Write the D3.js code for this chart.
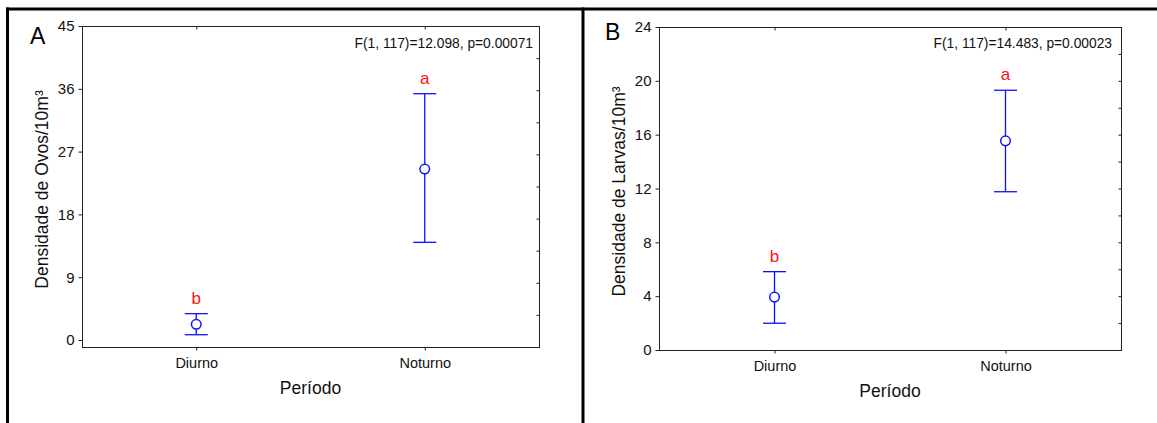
<!DOCTYPE html>
<html><head><meta charset="utf-8">
<script src="https://cdn.jsdelivr.net/npm/d3@7"></script>
<style>
html,body{margin:0;padding:0;background:#fff;}
svg text{font-family:"Liberation Sans",Arial,Helvetica,sans-serif;}
</style></head>
<body>
<svg id="chart" width="1157" height="423"></svg>
<script>
// ---- data ----
const categories = ["Diurno", "Noturno"];
const ovosMean = [2.25, 24.5];
const ovosLow = [0.76, 14.0];
const ovosHigh = [3.78, 35.3];
const ovosLetters = ["b", "a"];
const ovosTicks = [0, 9, 18, 27, 36, 45];
const ovosDomain = [-1, 45];
const ovosStat = "F(1, 117)=12.098, p=0.00071";

const larvasMean = [3.93, 15.54];
const larvasLow = [1.99, 11.76];
const larvasHigh = [5.82, 19.3];
const larvasLetters = ["b", "a"];
const larvasTicks = [0, 4, 8, 12, 16, 20, 24];
const larvasDomain = [0, 24];
const larvasStat = "F(1, 117)=14.483, p=0.00023";

const svg = d3.select("#chart");

// outer frame
svg.append("line").attr("x1", 6).attr("x2", 1157).attr("y1", 9).attr("y2", 9).attr("stroke", "#000").attr("stroke-width", 3);
svg.append("line").attr("x1", 7.5).attr("x2", 7.5).attr("y1", 7.5).attr("y2", 423).attr("stroke", "#000").attr("stroke-width", 3);
svg.append("line").attr("x1", 583).attr("x2", 583).attr("y1", 7.5).attr("y2", 423).attr("stroke", "#000").attr("stroke-width", 3);

function panel(o) {
  const g = svg.append("g");
  const x = d3.scalePoint().domain(categories).range([o.left, o.right]).padding(0.5);
  const y = d3.scaleLinear().domain(o.domain).range([o.bottom, o.top]);
  const rows = categories.map((c, i) => ({c, m: o.mean[i], lo: o.low[i], hi: o.high[i], l: o.letters[i]}));

  // frame
  g.append("rect").attr("x", o.left + 0.5).attr("y", o.top + 0.5)
    .attr("width", o.right - o.left).attr("height", o.bottom - o.top)
    .attr("fill", "none").attr("stroke", "#222").attr("stroke-width", 1);

  // left axis
  const ya = g.append("g").attr("transform", `translate(${o.left + 0.5},0)`)
    .call(d3.axisLeft(y).tickValues(o.ticks).tickSize(4).tickPadding(4).tickFormat(d3.format("d")));
  ya.select(".domain").remove();
  ya.selectAll("line").attr("stroke", "#222");
  ya.selectAll("text").attr("font-size", "15px").attr("fill", "#111");

  // right minor ticks (inside)
  const nDiv = o.rightDivs;
  const step = (o.domain[1] - o.domain[0]) / nDiv;
  const rt = d3.range(1, nDiv).map(k => o.domain[0] + k * step);
  const ra = g.append("g").attr("transform", `translate(${o.right + 0.5},0)`)
    .call(d3.axisLeft(y).tickValues(rt).tickSize(3).tickFormat(""));
  ra.select(".domain").remove();
  ra.selectAll(".tick line").attr("stroke", "#222").attr("x1", 0).attr("x2", -3);

  // bottom axis
  const xa = g.append("g").attr("transform", `translate(0,${o.bottom + 0.5})`)
    .call(d3.axisBottom(x).tickSize(3).tickPadding(7));
  xa.select(".domain").remove();
  xa.selectAll("line").attr("stroke", "#222");
  xa.selectAll("text").attr("font-size", "14.5px").attr("fill", "#111");

  // top ticks (inside)
  const ta = g.append("g").attr("transform", `translate(0,${o.top + 0.5})`)
    .call(d3.axisBottom(x).tickSize(3).tickFormat(""));
  ta.select(".domain").remove();
  ta.selectAll("line").attr("stroke", "#222");

  // axis titles
  g.append("text").attr("x", (o.left + o.right) / 2).attr("y", o.bottom + 47)
    .attr("text-anchor", "middle").attr("font-size", "17.5px").attr("fill", "#111").text("Período");
  g.append("text").attr("transform", `translate(${o.left - 34},${(o.top + o.bottom) / 2 + 3}) rotate(-90)`)
    .attr("text-anchor", "middle").attr("font-size", "17.5px").attr("fill", "#111").text(o.ylabel);

  // panel letter
  g.append("text").attr("x", o.letterX).attr("y", o.letterY).attr("font-size", "23px").attr("fill", "#000").text(o.panel);

  // stat text
  g.append("text").attr("x", o.right - o.statInset).attr("y", 48).attr("text-anchor", "end")
    .attr("font-size", "13.8px").attr("fill", "#111").text(o.stat);

  const blue = "#1010ff";
  const cap = 11.5;
  const eb = g.selectAll(".eb").data(rows).join("g");
  eb.append("line").attr("x1", d => x(d.c)).attr("x2", d => x(d.c)).attr("y1", d => y(d.lo)).attr("y2", d => y(d.hi))
    .attr("stroke", blue).attr("stroke-width", 1.3);
  eb.append("line").attr("x1", d => x(d.c) - cap).attr("x2", d => x(d.c) + cap).attr("y1", d => y(d.hi)).attr("y2", d => y(d.hi))
    .attr("stroke", blue).attr("stroke-width", 1.3);
  eb.append("line").attr("x1", d => x(d.c) - cap).attr("x2", d => x(d.c) + cap).attr("y1", d => y(d.lo)).attr("y2", d => y(d.lo))
    .attr("stroke", blue).attr("stroke-width", 1.3);
  eb.append("circle").attr("cx", d => x(d.c)).attr("cy", d => y(d.m)).attr("r", 4.8)
    .attr("fill", "#fff").attr("stroke", blue).attr("stroke-width", 1.5);
  eb.append("text").attr("x", d => x(d.c)).attr("y", d => y(d.hi) - 10).attr("text-anchor", "middle")
    .attr("font-size", "17px").attr("fill", "#ff1010").text(d => d.l);
}

panel({left: 82, right: 539, top: 26, bottom: 347, domain: ovosDomain, ticks: ovosTicks, rightDivs: 10,
  mean: ovosMean, low: ovosLow, high: ovosHigh, letters: ovosLetters, stat: ovosStat, statInset: 6,
  ylabel: "Densidade de Ovos/10m³", panel: "A", letterX: 30, letterY: 44});
panel({left: 659, right: 1121, top: 27, bottom: 350, domain: larvasDomain, ticks: larvasTicks, rightDivs: 12,
  mean: larvasMean, low: larvasLow, high: larvasHigh, letters: larvasLetters, stat: larvasStat, statInset: 9,
  ylabel: "Densidade de Larvas/10m³", panel: "B", letterX: 605, letterY: 40});
</script>
</body></html>
